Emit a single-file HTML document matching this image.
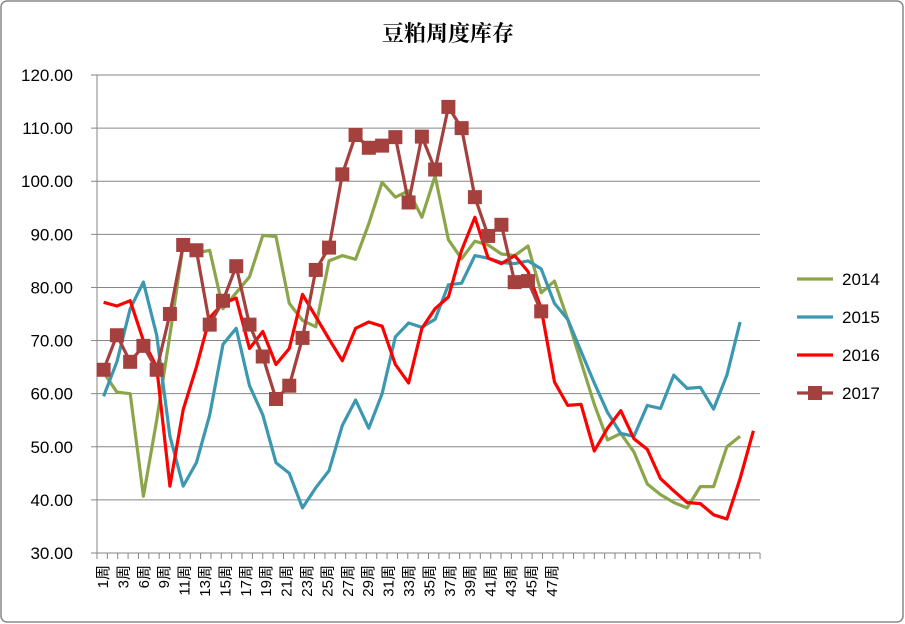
<!DOCTYPE html>
<html><head><meta charset="utf-8"><style>
body{margin:0;background:#fff}
svg{display:block}
text{font-family:"Liberation Sans","Noto Sans CJK SC",sans-serif}
</style></head><body>
<svg id="c" width="905" height="624" xmlns="http://www.w3.org/2000/svg">
<rect x="1" y="1" width="902" height="621" rx="6" fill="#fff" stroke="#888" stroke-width="1.5"/>
<text x="448" y="41" text-anchor="middle" font-size="22" font-weight="bold" style="font-family:'Noto Serif CJK SC','Noto Sans CJK SC',serif">豆粕周度库存</text>
<g id="g"></g>
</svg>
<script>
const NS="http://www.w3.org/2000/svg",g=document.getElementById('g');
function el(t,a,txt){const e=document.createElementNS(NS,t);for(const k in a)e.setAttribute(k,a[k]);if(txt!=null)e.textContent=txt;g.appendChild(e);return e;}
const X0=97,X1=760,Y=v=>553-(v-30)*5.311,dx=13.26,X=i=>X0+(i+0.5)*dx;
for(let v=30;v<=120;v+=10){const y=Y(v);if(v>30)el('line',{x1:X0,x2:X1,y1:y,y2:y,stroke:'#868686','stroke-width':1});
el('line',{x1:91,x2:X0,y1:y,y2:y,stroke:'#868686'});
el('text',{x:73,y:y+6,'text-anchor':'end','font-size':17},v.toFixed(2));}
el('line',{x1:X0,x2:X0,y1:Y(120),y2:Y(30),stroke:'#868686'});
el('line',{x1:X0,x2:X1,y1:Y(30),y2:Y(30),stroke:'#868686'});
for(let x=X0;x<=X1+1;x+=10.36)el('line',{x1:x,x2:x,y1:553,y2:559,stroke:'#868686'});
const labs=[1,3,6,9,11,13,15,17,19,21,23,25,27,29,31,33,35,37,39,41,43,45,47];
labs.forEach((l,k)=>{const x=103+k*20.4+5;el('text',{x:0,y:0,'font-size':15,transform:`translate(${x},565) rotate(-90)`,'text-anchor':'end'},l+'周');});
const d14=[64,60.3,60,40.7,55,71,88,86.5,87,76,79,82,89.8,89.6,77,73.8,72.6,85,86,85.3,92,99.8,97,98.2,93.2,101,89,85.4,88.7,88,86.3,86,87.8,79,81.2,74,66,58,51.3,52.5,49,43,41,39.5,38.5,42.5,42.5,50,52];
const d15=[59.5,66,76,81,71,52,42.6,47,56,69.3,72.3,61.5,56,47,45,38.5,42.3,45.5,54,58.8,53.5,60,70.7,73.3,72.5,74,80.5,80.8,86,85.5,84.7,84.5,85,83.5,77,74,68,62,56.5,52.5,52,57.8,57.2,63.5,61,61.2,57.1,63.5,73.5];
const d16=[77.2,76.5,77.5,70,65,42.6,57,65,74.3,77,78,68.5,71.7,65.5,68.5,78.7,74.5,70.3,66.2,72.3,73.5,72.7,65.5,62,72.3,76,78.2,87,93.2,85.5,84.5,86,83,76,62.2,57.8,58,49.2,53.5,56.8,51.5,49.5,44,41.7,39.5,39.3,37.2,36.4,44,53];
const d17=[64.5,71,66,69,64.5,75,88,87,73,77.5,84,73,67,59,61.5,70.5,83.3,87.5,101.3,108.7,106.3,106.7,108.3,96,108.4,102.2,114,110,97,89.7,91.8,81,81.2,75.5];
function line(d,c){el('polyline',{points:d.map((v,i)=>X(i).toFixed(1)+','+Y(v).toFixed(1)).join(' '),fill:'none',stroke:c,'stroke-width':3.2,'stroke-linejoin':'round'});}
line(d14,'#8BA64A');line(d15,'#3C97B0');line(d16,'#FF0000');line(d17,'#A4403E');
d17.forEach((v,i)=>el('rect',{x:X(i)-7,y:Y(v)-7,width:14,height:14,fill:'#A4403E'}));
const leg=[['2014','#8BA64A'],['2015','#3C97B0'],['2016','#FF0000'],['2017','#A4403E']];
leg.forEach((l,k)=>{const y=279+k*38;el('line',{x1:797,x2:833,y1:y,y2:y,stroke:l[1],'stroke-width':3.2});
if(k==3)el('rect',{x:808,y:y-7,width:14,height:14,fill:l[1]});
el('text',{x:842,y:y+6,'font-size':17},l[0]);});
</script>
</body></html>
